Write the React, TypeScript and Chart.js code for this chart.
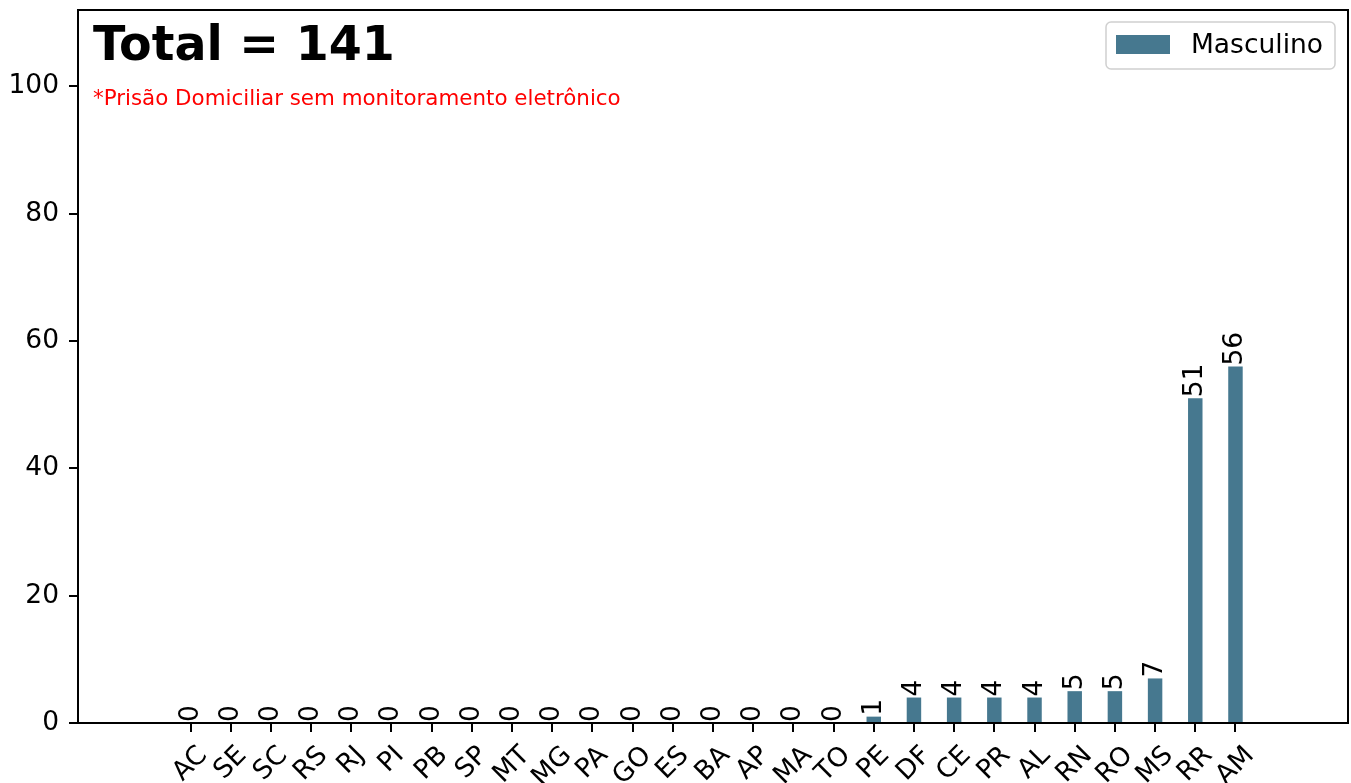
import React, { useEffect, useRef } from 'react';
import { Chart, registerables } from 'chart.js';

Chart.register(...registerables);

const states = ['AC', 'SE', 'SC', 'RS', 'RJ', 'PI', 'PB', 'SP', 'MT', 'MG', 'PA', 'GO', 'ES', 'BA', 'AP', 'MA', 'TO', 'PE', 'DF', 'CE', 'PR', 'AL', 'RN', 'RO', 'MS', 'RR', 'AM'];
const masculino = [0, 0, 0, 0, 0, 0, 0, 0, 0, 0, 0, 0, 0, 0, 0, 0, 0, 1, 4, 4, 4, 4, 5, 5, 7, 51, 56];
const yTicks = [0, 20, 40, 60, 80, 100];
const seriesLabel = 'Masculino';
const titleText = 'Total = 141';
const subtitleText = '*Prisão Domiciliar sem monitoramento eletrônico';

const FONT = "'DejaVu Sans', sans-serif";
const BAR_COLOR = '#46788f';
const FS = 26.5;

const overlayPlugin = {
  id: 'overlay',
  afterDatasetsDraw(chart: any) {
    const ctx = chart.ctx;
    const meta = chart.getDatasetMeta(0);
    ctx.save();
    ctx.fillStyle = '#000';
    ctx.font = `${FS}px ${FONT}`;
    meta.data.forEach((bar: any, i: number) => {
      const v = masculino[i];
      ctx.save();
      ctx.translate(bar.x + 7, bar.y - 1);
      ctx.rotate(-Math.PI / 2);
      ctx.textAlign = 'left';
      ctx.textBaseline = 'alphabetic';
      ctx.fillText(String(v), 0, 0);
      ctx.restore();
    });
    ctx.restore();
  },
  afterDraw(chart: any) {
    const ctx = chart.ctx;
    const area = chart.chartArea;
    const xs = chart.scales.x;
    ctx.save();
    // frame top/right
    ctx.strokeStyle = '#000';
    ctx.lineWidth = 2;
    ctx.beginPath();
    ctx.moveTo(area.left, area.top);
    ctx.lineTo(area.right, area.top);
    ctx.lineTo(area.right, area.bottom);
    ctx.stroke();

    // x tick labels, rotated 45 deg, centered on tick
    ctx.fillStyle = '#000';
    ctx.font = `${FS}px ${FONT}`;
    const h = FS * 1.16;
    const yTop = area.bottom + 9 + 8.5;
    states.forEach((s, i) => {
      const x = xs.getPixelForValue(i);
      const w = ctx.measureText(s).width;
      const bb = (w + h) * Math.SQRT1_2;
      ctx.save();
      ctx.translate(x, yTop + bb / 2);
      ctx.rotate(-Math.PI / 4);
      ctx.textAlign = 'center';
      ctx.textBaseline = 'middle';
      ctx.fillText(s, 0, 0);
      ctx.restore();
    });

    // title + subtitle
    ctx.textAlign = 'left';
    ctx.textBaseline = 'alphabetic';
    ctx.font = `bold 47.5px ${FONT}`;
    ctx.fillText(titleText, area.left + 15, 60);
    ctx.fillStyle = '#ff0000';
    ctx.font = `21.4px ${FONT}`;
    ctx.fillText(subtitleText, area.left + 15, 105);

    // legend
    const lx = 1106, ly = 22, lw = 229, lh = 47, r = 5;
    ctx.fillStyle = 'rgba(255,255,255,0.8)';
    ctx.strokeStyle = '#d0d0d0';
    ctx.lineWidth = 1.5;
    ctx.beginPath();
    ctx.moveTo(lx + r, ly);
    ctx.lineTo(lx + lw - r, ly);
    ctx.arcTo(lx + lw, ly, lx + lw, ly + r, r);
    ctx.lineTo(lx + lw, ly + lh - r);
    ctx.arcTo(lx + lw, ly + lh, lx + lw - r, ly + lh, r);
    ctx.lineTo(lx + r, ly + lh);
    ctx.arcTo(lx, ly + lh, lx, ly + lh - r, r);
    ctx.lineTo(lx, ly + r);
    ctx.arcTo(lx, ly, lx + r, ly, r);
    ctx.closePath();
    ctx.fill();
    ctx.stroke();
    ctx.fillStyle = BAR_COLOR;
    ctx.fillRect(1116, 35, 54, 19);
    ctx.fillStyle = '#000';
    ctx.font = `${FS}px ${FONT}`;
    ctx.fillText(seriesLabel, 1191, 53);
    ctx.restore();
  },
};

export default function App() {
  const canvasRef = useRef<HTMLCanvasElement | null>(null);

  useEffect(() => {
    if (!canvasRef.current) return;
    const chart = new Chart(canvasRef.current, {
      type: 'bar',
      data: {
        datasets: [
          {
            label: seriesLabel,
            data: masculino.map((v, i) => ({ x: i, y: v })),
            backgroundColor: BAR_COLOR,
            borderWidth: 0,
            categoryPercentage: 1,
            barPercentage: 0.36,
          },
        ],
      },
      options: {
        animation: false,
        responsive: false,
        maintainAspectRatio: false,
        layout: { padding: { top: 10, right: 3, left: 0, bottom: 0 } },
        plugins: {
          legend: { display: false },
          title: { display: false },
          tooltip: { enabled: false },
        },
        scales: {
          x: {
            type: 'linear',
            min: -2.8,
            max: 28.8,
            offset: false,
            grid: {
              display: true,
              offset: false,
              drawOnChartArea: false,
              drawTicks: true,
              tickLength: 9,
              tickWidth: 2,
              lineWidth: 2,
              tickColor: '#000',
              color: '#000',
            },
            border: { display: true, color: '#000', width: 2 },
            ticks: { display: false, autoSkip: false },
            afterBuildTicks: (s: any) => {
              s.ticks = states.map((_, i) => ({ value: i }));
            },
            afterFit: (s: any) => {
              s.height = 60;
              s.paddingLeft = 0;
              s.paddingRight = 0;
            },
          },
          y: {
            type: 'linear',
            min: 0,
            max: 112,
            grid: {
              display: true,
              drawOnChartArea: false,
              drawTicks: true,
              tickLength: 9,
              tickWidth: 2,
              lineWidth: 2,
              tickColor: '#000',
              color: '#000',
            },
            border: { display: true, color: '#000', width: 2 },
            ticks: {
              color: '#000',
              font: { family: FONT, size: FS },
              padding: 10,
              autoSkip: false,
            },
            afterBuildTicks: (s: any) => {
              s.ticks = yTicks.map((v) => ({ value: v }));
            },
            afterFit: (s: any) => {
              s.width = 78;
              s.paddingTop = 0;
              s.paddingBottom = 0;
            },
          },
        },
      } as any,
      plugins: [overlayPlugin],
    });
    return () => chart.destroy();
  }, []);

  return (
    <div style={{ position: 'fixed', left: 0, top: 0, width: 1351, height: 783, background: '#fff' }}>
      <canvas ref={canvasRef} width={1351} height={783} style={{ display: 'block' }} />
    </div>
  );
}
